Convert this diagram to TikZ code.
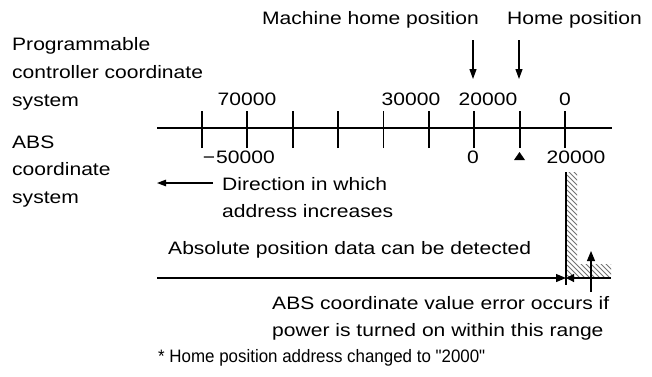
\documentclass[tikz,border=0pt]{standalone}
\usepackage{fontspec}
\setmainfont[FakeStretch=1.17]{Liberation Sans}
\newfontfamily\notefont[FakeStretch=0.94]{Liberation Sans}
\usetikzlibrary{arrows.meta}
\begin{document}
\begin{tikzpicture}[x=1pt,y=-1pt,
  txt/.style={anchor=base west,inner sep=0pt,font=\fontsize{18}{22}\selectfont},
  num/.style={anchor=base,inner sep=0pt,font=\fontsize{18}{22}\selectfont},
  axisline/.style={line width=2pt},
  tickline/.style={line width=1.8pt},
  arr/.style={line width=1.1pt,-{Triangle[length=10pt,width=7pt]}},
  hatch/.style={line width=0.75pt,black!55},
  thin line/.style={line width=1.1pt}]
\useasboundingbox[fill=white] (0,0) rectangle (652,376);

% top labels
\node[txt] (mhp) at (262,24) {Machine home position};
\node[txt] (hp) at (507,24) {Home position};

% left labels
\node[txt] (l1) at (12,50) {Programmable};
\node[txt] (l2) at (12,78) {controller coordinate};
\node[txt] (l3) at (12,106) {system};
\node[txt] (l4) at (12,148) {ABS};
\node[txt] (l5) at (12,175) {coordinate};
\node[txt] (l6) at (12,203) {system};

% axis
\coordinate (axL) at (157,128);
\coordinate (axR) at (612,128);
\draw[axisline] (axL) -- (axR);
\foreach \i in {0,...,8}{
  \coordinate (t\i) at ({202+45.375*\i},128);
  \draw[tickline] ([yshift=-20pt]t\i) -- ([yshift=17pt]t\i);
}

% numbers above
\node[num] (n70) at (247,105) {70000};
\node[num] (n30) at (411,105) {30000};
\node[num] (n20) at (488,105) {20000};
\node[num] (n0) at (565,105) {0};

% numbers below
\node[num,anchor=base east] (b50) at (275,163) {−\hspace{1pt}50000};
\node[num] (b0) at (473,163) {0};
\node[num] (b20) at (576,163) {20000};
\fill (514,160) -- (525,160) -- (519.5,152) -- cycle;

% down arrows
\coordinate (d1s) at (473,40);
\coordinate (d1e) at (473,79);
\coordinate (d2s) at (519,40);
\coordinate (d2e) at (519,79);
\draw[arr] (d1s) -- (d1e);
\draw[arr] (d2s) -- (d2e);

% direction arrow
\node[txt] (dir1) at (222,190) {Direction in which};
\node[txt] (dir2) at (222,217) {address increases};
\coordinate (das) at (213,183);
\coordinate (dae) at (157,183);
\draw[line width=1.1pt,-{Triangle[length=9pt,width=6.5pt]}] (das) -- (dae);

% hatched region
\begin{scope}
\clip (567,172) -- (577,172) -- (577,264) -- (611,264) -- (611,277.5) -- (567,277.5) -- cycle;
\foreach \k in {110,115,...,290} \draw[hatch] (567,\k) -- ++(70,70);
\end{scope}
\coordinate (vt) at (566,172);
\coordinate (vb) at (566,285);
\draw[thin line] (vt) -- (vb);

% detection line
\node[txt] (abs) at (168,254) {Absolute position data can be detected};
\coordinate (hl) at (157,278);
\coordinate (hm) at (566,278);
\coordinate (hr) at (611,278);
\draw[thin line,-{Triangle[length=10pt,width=8pt]}] (hl) -- (hm);
\draw[thin line,-{Triangle[length=8pt,width=8pt]}] (hr) -- (hm);

% up arrow
\coordinate (us) at (591,292);
\coordinate (ue) at (591,251);
\draw[line width=1.1pt,-{Triangle[length=10pt,width=8pt]}] (us) -- (ue);

% bottom texts
\node[txt] (e1) at (272,309) {ABS coordinate value error occurs if};
\node[txt] (e2) at (272,336) {power is turned on within this range};
\node[txt,font=\notefont\fontsize{18}{22}\selectfont] (fn) at (158,362) {* Home position address changed to "2000"};
\end{tikzpicture}
\end{document}
